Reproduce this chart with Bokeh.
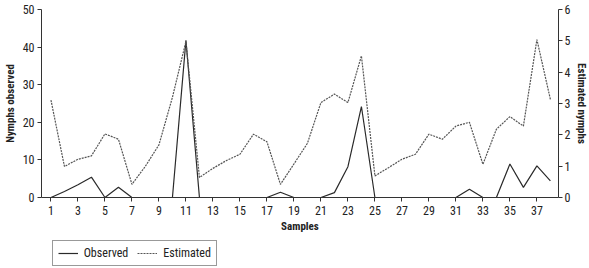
from bokeh.plotting import figure
from bokeh.layouts import column
from bokeh.models import Range1d, LinearAxis, Legend, LegendItem, FixedTicker
from bokeh.embed import file_html
from bokeh.resources import INLINE

samples = list(range(1, 39))
observed = [0, 1.6, 3.4, 5.4, 0, 2.7, 0, 0, 0, 0,
            41.8, 0, 0, 0, 0, 0, 0, 1.4, 0, 0,
            0, 1.3, 8.2, 24.2, 0, 0, 0, 0, 0, 0,
            0, 2.2, 0, 0, 8.9, 2.7, 8.4, 4.4]
estimated = [3.11, 0.99, 1.22, 1.33, 2.03, 1.86, 0.42, 1.0, 1.68, 3.2,
             4.98, 0.64, 0.93, 1.18, 1.38, 2.02, 1.78, 0.42, 1.07, 1.73,
             3.03, 3.30, 3.03, 4.52, 0.69, 0.95, 1.22, 1.38, 2.02, 1.86,
             2.28, 2.40, 1.06, 2.18, 2.58, 2.28, 5.04, 3.13]
x_ticks = list(range(1, 39, 2))
left_ticks = [0, 10, 20, 30, 40, 50]
right_ticks = [0, 1, 2, 3, 4, 5, 6]
series_names = ["Observed", "Estimated"]

FONT = "'Liberation Sans Narrow', 'Arial Narrow', 'Roboto Condensed', sans-serif"
TXT = "#222222"
AX = "#333333"
OBS_COLOR = "#2a2a2a"
EST_COLOR = "#555555"

p = figure(frame_width=517, frame_height=188, output_backend="svg", toolbar_location=None,
           x_range=Range1d(0.3, 38.6), y_range=Range1d(0, 50),
           min_border_left=29, min_border_right=23, min_border_top=9, min_border_bottom=42)
p.extra_y_ranges = {"est": Range1d(0, 6)}
p.outline_line_color = None
p.xgrid.visible = False
p.ygrid.visible = False

p.line(samples, observed, line_color=OBS_COLOR, line_width=1.2)
p.line(samples, estimated, line_color=EST_COLOR, line_width=1.2,
       line_dash="2 1", y_range_name="est")

def style(ax):
    ax.axis_line_color = AX
    ax.major_tick_line_color = AX
    ax.minor_tick_line_color = None
    ax.major_tick_in = 0
    ax.major_tick_out = 4
    ax.major_label_text_font = FONT
    ax.major_label_text_font_size = "12px"
    ax.major_label_text_color = TXT
    ax.axis_label_text_font = FONT
    ax.axis_label_text_font_size = "11px"
    ax.axis_label_text_font_style = "bold"
    ax.axis_label_text_color = TXT

xa = p.xaxis[0]
xa.ticker = FixedTicker(ticks=x_ticks)
xa.axis_label = "Samples"
style(xa)
xa.major_label_standoff = 4
xa.axis_label_standoff = 2

ya = p.yaxis[0]
ya.ticker = FixedTicker(ticks=left_ticks)
ya.axis_label = "Nymphs observed"
style(ya)
ya.major_label_standoff = 3
ya.axis_label_standoff = 3

ra = LinearAxis(y_range_name="est", ticker=FixedTicker(ticks=right_ticks),
                axis_label="Estimated nymphs")
style(ra)
ra.major_label_standoff = 2
ra.axis_label_standoff = 2
p.add_layout(ra, "right")

# legend strip below the chart (dummy lines lie outside the visible range)
lp = figure(frame_width=521, frame_height=30, output_backend="svg", toolbar_location=None,
            x_range=Range1d(0, 1), y_range=Range1d(0, 1),
            x_axis_location=None, y_axis_location=None,
            min_border=0, min_border_left=29)
lp.grid.visible = False
lp.outline_line_color = None
g_obs = lp.line([5, 6], [5, 6], line_color=OBS_COLOR, line_width=1.2)
g_est = lp.line([5, 6], [5, 6], line_color=EST_COLOR, line_width=1.2, line_dash="2 1")

legend = Legend(items=[LegendItem(label=series_names[0], renderers=[g_obs]),
                       LegendItem(label=series_names[1], renderers=[g_est])],
                orientation="horizontal", location=(42, 3))
legend.border_line_color = "#333333"
legend.border_line_width = 1
legend.label_text_font = FONT
legend.label_text_font_size = "12px"
legend.label_text_color = TXT
legend.glyph_width = 20
legend.glyph_height = 10
legend.label_standoff = 6
legend.spacing = 9
legend.padding = 5
legend.margin = 0
legend.label_height = 10
legend.background_fill_alpha = 1
lp.add_layout(legend, "center")

layout = column(p, lp, spacing=0)
open("out.html", "w").write(file_html(layout, INLINE))
